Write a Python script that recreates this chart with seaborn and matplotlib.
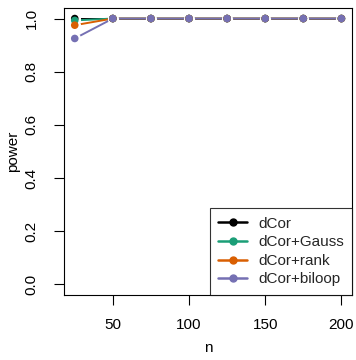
import matplotlib
matplotlib.use("Agg")
import matplotlib.pyplot as plt
import seaborn as sns
import pandas as pd
from matplotlib.lines import Line2D

n_values = [25, 50, 75, 100, 125, 150, 175, 200]
dcor = [1.0, 1.0, 1.0, 1.0, 1.0, 1.0, 1.0, 1.0]
dcor_gauss = [0.993, 1.0, 1.0, 1.0, 1.0, 1.0, 1.0, 1.0]
dcor_rank = [0.975, 1.0, 1.0, 1.0, 1.0, 1.0, 1.0, 1.0]
dcor_biloop = [0.925, 1.0, 1.0, 1.0, 1.0, 1.0, 1.0, 1.0]
methods = ["dCor", "dCor+Gauss", "dCor+rank", "dCor+biloop"]
colors = ["#000000", "#1B9E77", "#D95F02", "#7570B3"]
x_ticks = [50, 100, 150, 200]
y_ticks = [0.0, 0.2, 0.4, 0.6, 0.8, 1.0]

series = [dcor, dcor_gauss, dcor_rank, dcor_biloop]
df = pd.DataFrame({
    "n": n_values * len(methods),
    "power": sum(series, []),
    "method": [m for m in methods for _ in n_values],
})

sns.set_theme(style="white")
plt.rcParams["font.family"] = ["Liberation Sans", "DejaVu Sans"]

fig = plt.figure(figsize=(3.56, 3.6), dpi=100)
ax = fig.add_axes([0.180, 0.181, 0.809, 0.797])

palette = dict(zip(methods, colors))
# lines with white-ringed markers (to mimic R's type="b" gaps)
sns.lineplot(data=df, x="n", y="power", hue="method", hue_order=methods,
             palette=palette, marker="o", markersize=5, markeredgecolor="white",
             markerfacecolor="white", markeredgewidth=3, linewidth=1.4,
             ax=ax, legend=False)
# points on top
sns.scatterplot(data=df, x="n", y="power", hue="method", hue_order=methods,
                palette=palette, s=30, edgecolor="none", ax=ax, legend=False,
                zorder=5)

ax.set_xlim(18, 207)
ax.set_ylim(-0.04, 1.04)
ax.set_xticks(x_ticks)
ax.set_yticks(y_ticks)
ax.set_xticklabels([str(t) for t in x_ticks], fontsize=11)
ax.set_yticklabels([f"{t:.1f}" for t in y_ticks], fontsize=11, rotation=90, va="center")
ax.tick_params(axis="x", direction="out", length=7.5, width=0.8, color="black",
               bottom=True, pad=9, labelcolor="black")
ax.tick_params(axis="y", direction="out", length=7.5, width=0.8, color="black",
               left=True, pad=11, labelcolor="black")
for s in ax.spines.values():
    s.set_visible(True)
    s.set_color("black")
    s.set_linewidth(0.8)
ax.set_xlabel("n", fontsize=11, color="black", labelpad=7)
ax.set_ylabel("power", fontsize=11, color="black", labelpad=3)
ax.grid(False)

handles = [Line2D([0], [0], color=c, marker="o", markersize=5, linewidth=1.8) for c in colors]
leg = ax.legend(handles, methods, loc="lower right", fontsize=11, frameon=True,
                fancybox=False, edgecolor="black", borderaxespad=0.0,
                handlelength=1.9, handletextpad=0.7, labelspacing=0.3,
                borderpad=0.55)
leg.get_frame().set_linewidth(0.8)

fig.savefig("out.png", dpi=100)
